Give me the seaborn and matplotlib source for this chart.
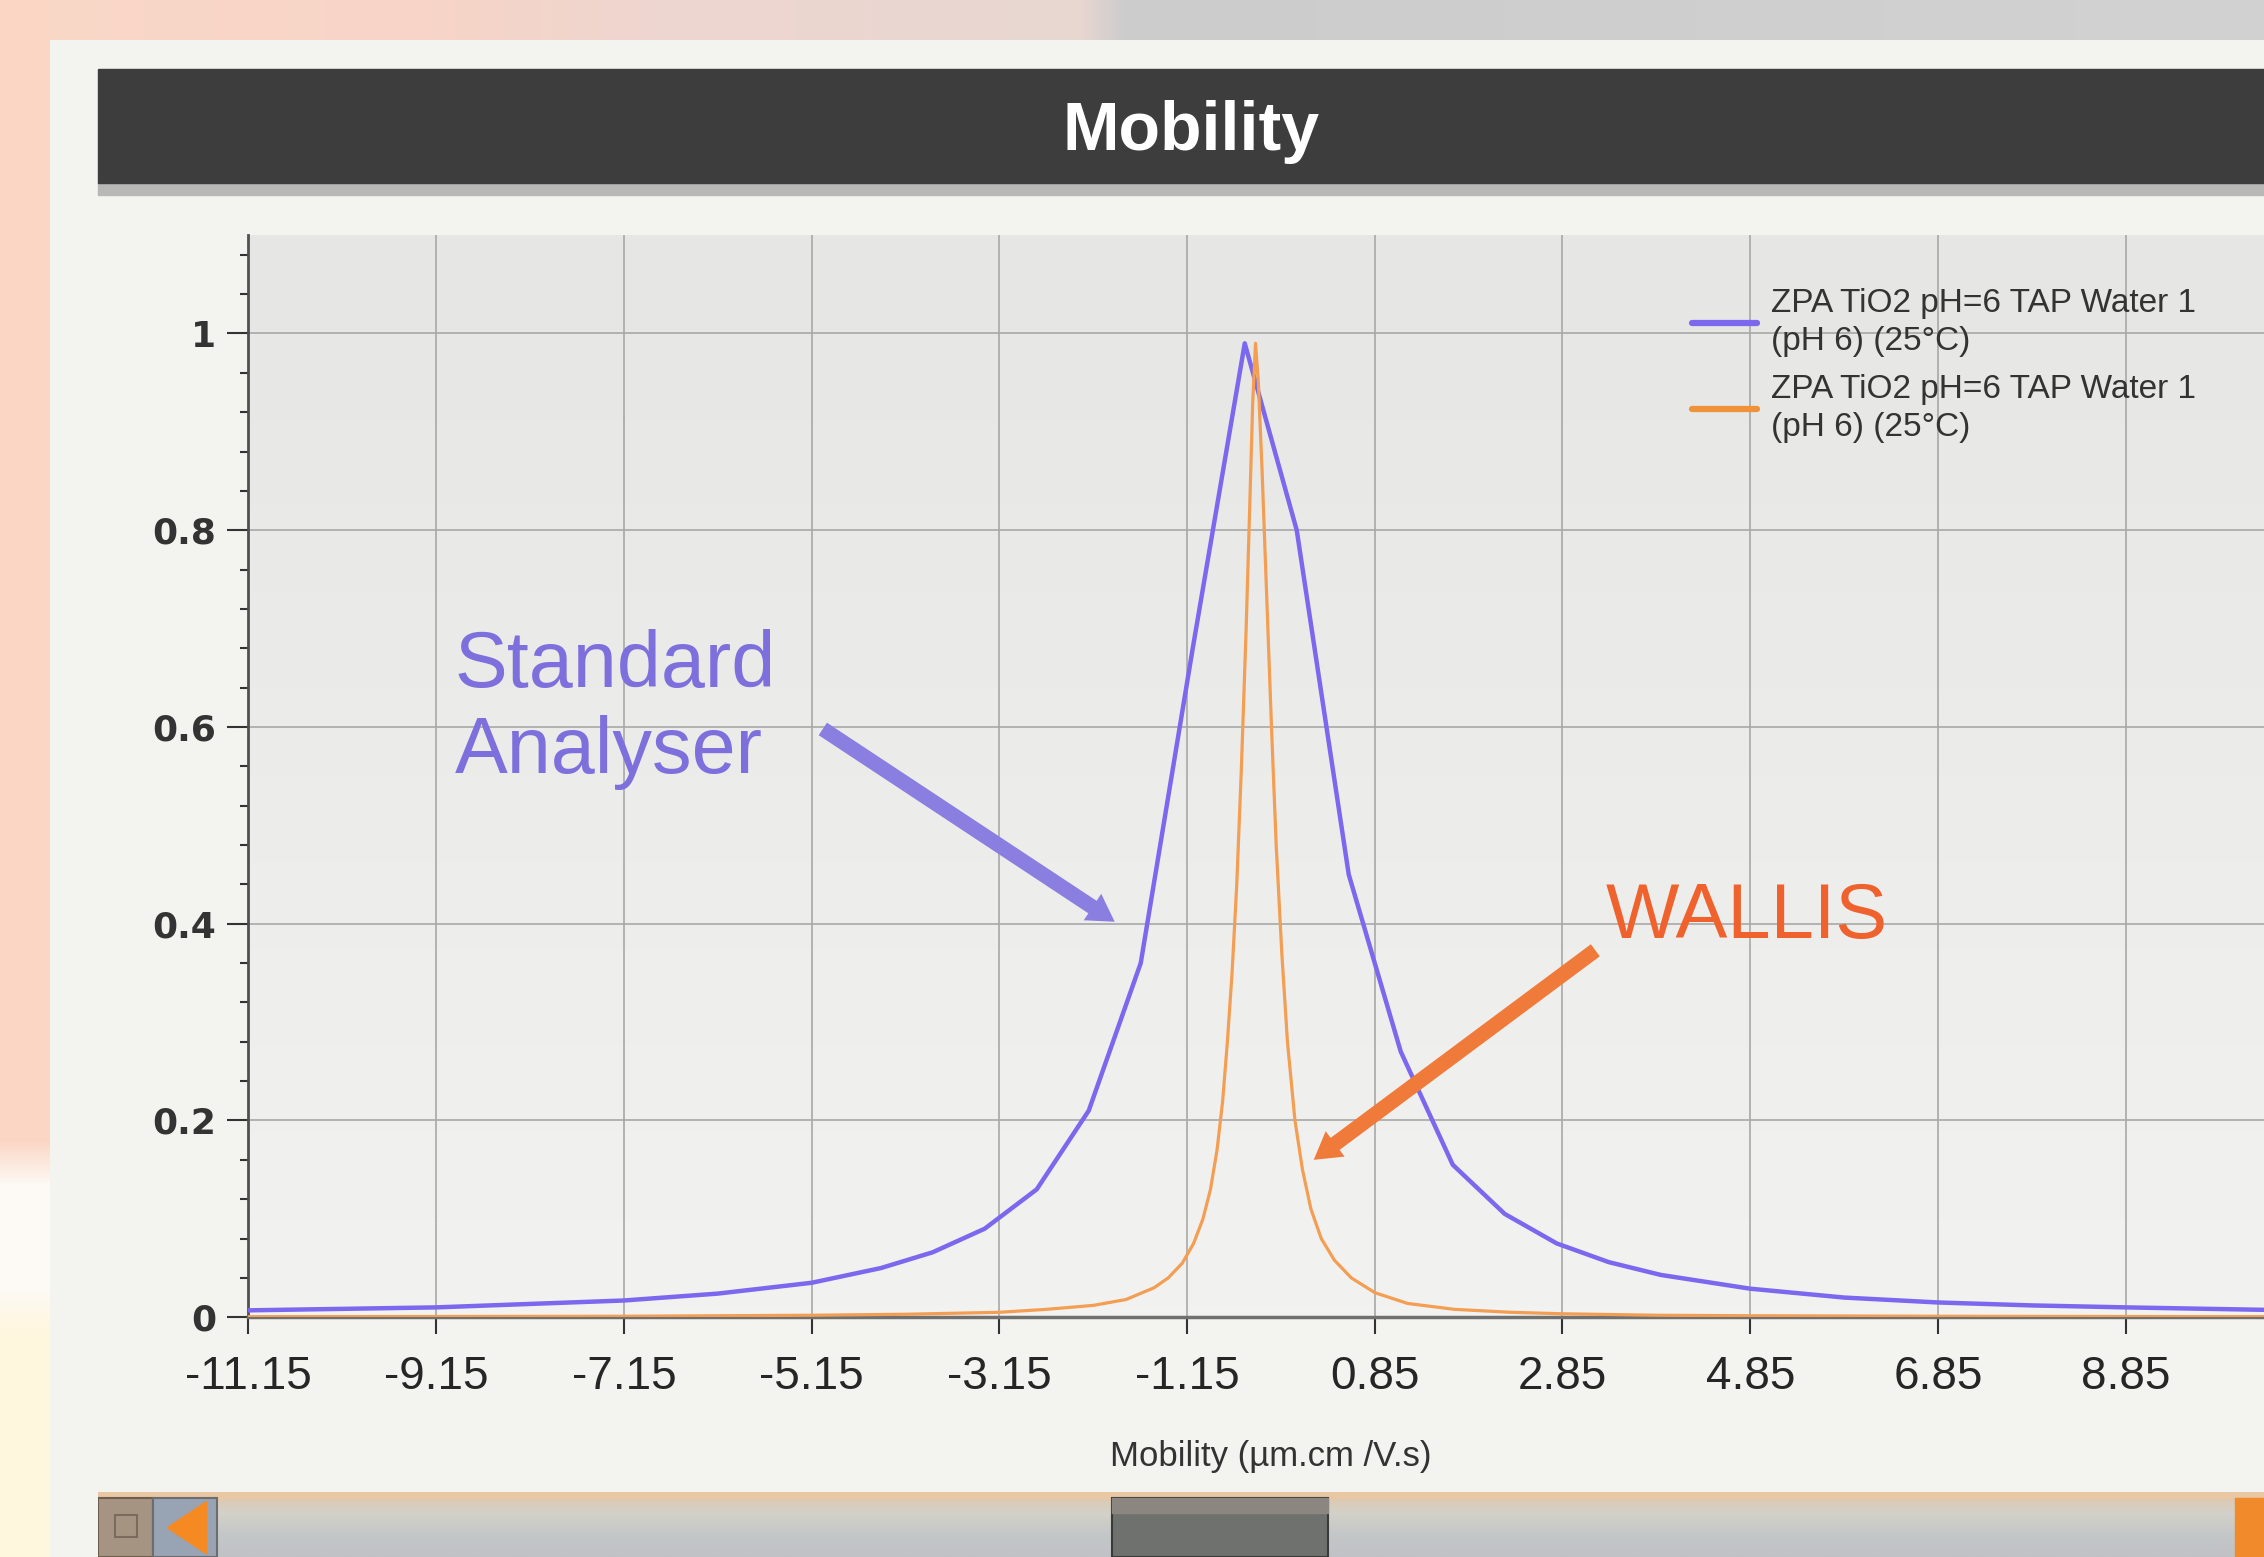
import numpy as np
import pandas as pd
import seaborn as sns
import matplotlib
matplotlib.use("Agg")
import matplotlib.pyplot as plt
from matplotlib.patches import Rectangle, Polygon
from matplotlib.ticker import MultipleLocator

# valori
standard_x = [-11.15, -9.15, -7.15, -6.15, -5.15, -4.41, -3.86, -3.305, -2.751, -2.197,
              -1.643, -1.089, -0.535, 0.019, 0.573, 1.127, 1.681, 2.235, 2.789, 3.343,
              3.897, 4.85, 5.85, 6.85, 7.85, 8.85, 10.63]
standard_y = [0.007, 0.01, 0.017, 0.024, 0.035, 0.05, 0.066, 0.09, 0.13, 0.21,
              0.36, 0.68, 0.99, 0.80, 0.45, 0.27, 0.155, 0.105, 0.075, 0.056,
              0.043, 0.029, 0.02, 0.015, 0.012, 0.01, 0.007]

wallis_x = [-11.15, -7.15, -5.15, -4.15, -3.15, -2.65, -2.15, -1.8, -1.5, -1.35,
            -1.2, -1.08, -0.98, -0.9, -0.83, -0.77, -0.72, -0.67, -0.62, -0.57,
            -0.52, -0.48, -0.45, -0.42, -0.39, -0.35, -0.3, -0.25, -0.2, -0.14,
            -0.08, 0.0, 0.08, 0.17, 0.28, 0.42, 0.6, 0.85, 1.2, 1.7,
            2.3, 2.85, 3.85, 4.85, 6.85, 10.63]
wallis_y = [0.0005, 0.001, 0.002, 0.003, 0.005, 0.008, 0.012, 0.018, 0.03, 0.04,
            0.055, 0.075, 0.1, 0.13, 0.17, 0.22, 0.28, 0.35, 0.44, 0.56,
            0.7, 0.83, 0.93, 0.99, 0.95, 0.86, 0.73, 0.6, 0.48, 0.37,
            0.28, 0.2, 0.15, 0.11, 0.08, 0.058, 0.04, 0.025, 0.014, 0.008,
            0.005, 0.0035, 0.002, 0.0015, 0.001, 0.0005]

x_ticks = [-11.15, -9.15, -7.15, -5.15, -3.15, -1.15, 0.85, 2.85, 4.85, 6.85, 8.85]
y_ticks = [0, 0.2, 0.4, 0.6, 0.8, 1]
y_tick_labels = ["0", "0.2", "0.4", "0.6", "0.8", "1"]
serie_label = "ZPA TiO2 pH=6 TAP Water 1\n(pH 6) (25°C)"

BLU = "#7b68ee"
ARANCIO = "#f39e52"
SANS = ["Liberation Sans", "DejaVu Sans"]

sns.set_style("whitegrid")
plt.rcParams["font.family"] = ["DejaVu Sans"]

fig = plt.figure(figsize=(22.64, 15.57), dpi=100)

# sfondo (striscia a sinistra e in alto, pannello)
H, W = 1557, 2264
img = np.empty((H, W, 3), dtype=np.uint8)
img[:] = (243, 243, 239)
righe = np.arange(H)
for c in range(3):
    col = np.interp(righe, [0, 1140, 1185, 1290, 1330, H],
                    [(251, 214, 197)[c], (251, 214, 197)[c], (253, 250, 245)[c],
                     (253, 250, 245)[c], (255, 246, 222)[c], (255, 246, 222)[c]])
    img[:, :50, c] = col[:, None].astype(np.uint8)
colonne = np.arange(W)
for c in range(3):
    row = np.interp(colonne, [0, 430, 650, 1080, 1125, W],
                    [(250, 216, 199)[c], (247, 212, 199)[c], (238, 214, 207)[c],
                     (232, 214, 209)[c], (204, 204, 204)[c], (210, 210, 210)[c]])
    img[:40, 50:, c] = row[None, 50:].astype(np.uint8)
bg = fig.add_axes([0, 0, 1, 1], zorder=-10)
bg.imshow(img, aspect="auto", extent=(0, 1, 0, 1), interpolation="nearest")
bg.axis("off")

# barra del titolo
fig.patches.append(Rectangle((0.0433, 0.8745), 1, 0.008, transform=fig.transFigure,
                             color="#b8b8b6", zorder=1))
fig.patches.append(Rectangle((0.0433, 0.8825), 1, 0.0732, transform=fig.transFigure,
                             color="#3d3d3d", zorder=2))
fig.text(0.526, 0.915, "Mobility", color="white", fontsize=49, fontweight="bold",
         family=SANS, ha="center", va="center")

# grafico principale
ax = fig.add_axes([0.1097, 0.154, 0.903, 0.695])
grad = np.linspace(0, 1, 100)[:, None]
ax.imshow(grad, cmap=matplotlib.colors.LinearSegmentedColormap.from_list(
    "sfondo", ["#e6e6e4", "#f2f2f0"]), aspect="auto",
    extent=(-11.15, 10.63, 0, 1.1), origin="upper", zorder=0)

df_std = pd.DataFrame({"mobility": standard_x, "intensity": standard_y})
df_wal = pd.DataFrame({"mobility": wallis_x, "intensity": wallis_y})
sns.lineplot(data=df_std, x="mobility", y="intensity", color=BLU, lw=3.2,
             label=serie_label, ax=ax, zorder=3)
sns.lineplot(data=df_wal, x="mobility", y="intensity", color=ARANCIO, lw=2.3,
             label=serie_label, ax=ax, zorder=3)

ax.set_xlim(-11.15, 10.63)
ax.set_ylim(0, 1.1)
ax.set_xticks(x_ticks)
ax.set_xticklabels([f"{v:.2f}" for v in x_ticks], family=SANS, fontsize=33,
                   color="#262626")
ax.set_yticks(y_ticks)
ax.set_yticklabels(y_tick_labels, fontsize=26, fontweight="bold", color="#333333")
ax.yaxis.set_minor_locator(MultipleLocator(0.04))
ax.tick_params(axis="x", which="major", direction="out", length=12, width=1.5,
               color="#333333", pad=15, bottom=True)
ax.tick_params(axis="y", which="major", direction="out", length=15, width=1.5,
               color="#333333", pad=8, left=True)
ax.tick_params(axis="y", which="minor", direction="out", length=6, width=1.5,
               color="#333333", left=True)
ax.grid(True, which="major", color="#a8a8a8", lw=1.2)
ax.grid(False, which="minor")
ax.set_axisbelow(True)
for lato in ["top", "right"]:
    ax.spines[lato].set_visible(False)
ax.spines["left"].set_color("#505050")
ax.spines["left"].set_linewidth(2)
ax.spines["bottom"].set_color("#707070")
ax.spines["bottom"].set_linewidth(2.5)
ax.set_xlabel("Mobility (µm.cm /V.s)", family=SANS, fontsize=25, color="#333333",
              labelpad=30)
ax.set_ylabel("")

handles, labels = ax.get_legend_handles_labels()
leg = ax.legend(handles, labels, loc="upper left", bbox_to_anchor=(0.7473, 0.815),
                bbox_transform=fig.transFigure, frameon=False,
                prop={"family": SANS, "size": 24}, handlelength=1.95,
                handletextpad=0.42, labelspacing=0.5, borderpad=0, borderaxespad=0)
for t in leg.get_texts():
    t.set_linespacing(1.3)
    t.set_color("#333333")
leg.get_lines()[0].set_linewidth(4.5)
leg.get_lines()[1].set_linewidth(4.5)
leg.get_lines()[1].set_color("#f0923a")

# annotazioni
ax.text(-8.95, 0.70, "Standard\nAnalyser", color="#7d6fdc", fontsize=57, family=SANS,
        ha="left", va="top", linespacing=1.2, zorder=5)
ax.text(3.31, 0.385, "WALLIS", color="#f0622d", fontsize=56, family=SANS,
        ha="left", va="baseline", zorder=5)
stile = "simple,head_length=0.8,head_width=0.95,tail_width=0.45"
ax.annotate("", xy=(-1.92, 0.402), xytext=(-5.03, 0.598),
            arrowprops=dict(arrowstyle=stile, mutation_scale=24, color="#8a7fe0",
                            lw=0, shrinkA=0, shrinkB=0), zorder=5)
ax.annotate("", xy=(0.20, 0.16), xytext=(3.20, 0.373),
            arrowprops=dict(arrowstyle=stile, mutation_scale=24, color="#ef7a39",
                            lw=0, shrinkA=0, shrinkB=0), zorder=5)

# barra di scorrimento
sb = fig.add_axes([0.0433, 0, 0.9567, 0.0418])
sbgrad = np.linspace(0, 1, 50)[:, None]
sb.imshow(sbgrad, cmap=matplotlib.colors.LinearSegmentedColormap.from_list(
    "barra", ["#e2c6a8", "#d3d1c9", "#c4c7c8", "#c0c2c6"]), aspect="auto",
    extent=(0, 1, 0, 1), origin="upper")
sb.add_patch(Rectangle((0, 0.9), 1, 0.1, color="#e8c7a2"))
sb.add_patch(Rectangle((0.468, 0), 0.1, 0.9, color="#6e716e", ec="#3a3a3a", lw=1.5))
sb.add_patch(Rectangle((0.468, 0.68), 0.1, 0.22, color="#8c8681"))
sb.add_patch(Rectangle((0, 0), 0.0254, 0.9, color="#a59482", ec="#6d5e50", lw=1.5))
sb.add_patch(Rectangle((0.008, 0.3), 0.01, 0.35, fc="none", ec="#7a6b5e", lw=1.5))
sb.add_patch(Rectangle((0.0254, 0), 0.0295, 0.9, color="#98a3b4", ec="#6d6d6d", lw=1.5))
sb.add_patch(Polygon([[0.032, 0.45], [0.05, 0.05], [0.05, 0.85]], color="#f58a22"))
sb.add_patch(Rectangle((0.9866, 0), 0.0134, 0.9, color="#f08a2a"))
sb.set_xlim(0, 1)
sb.set_ylim(0, 1)
sb.axis("off")

fig.savefig("out.png", dpi=100)
